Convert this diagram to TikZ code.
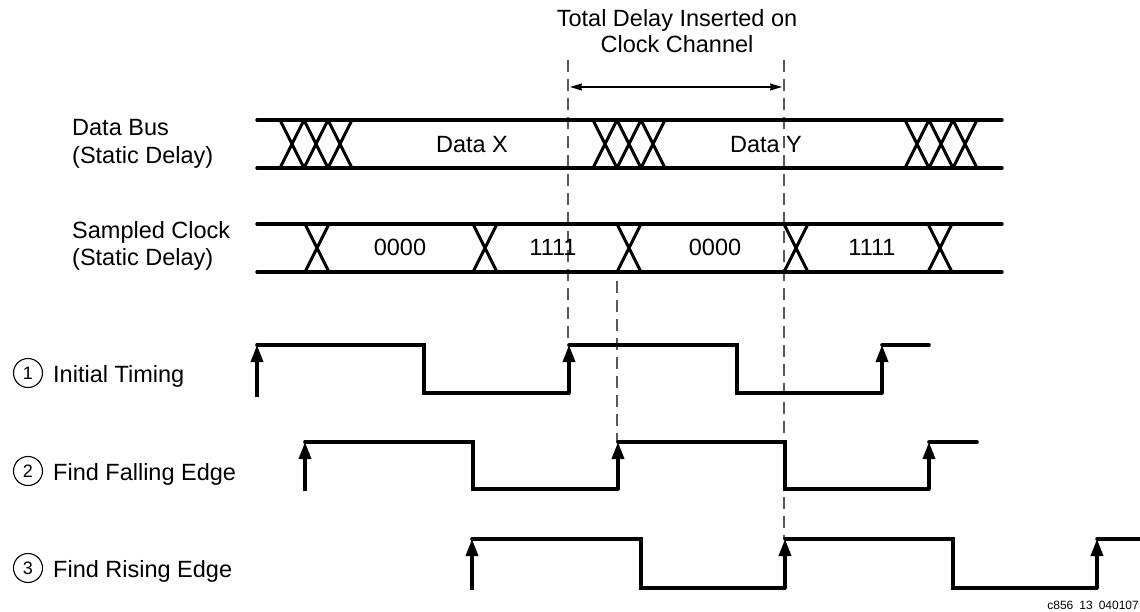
\documentclass[tikz,border=0pt]{standalone}
\usepackage{fontspec}
\setmainfont{Liberation Sans}
\usetikzlibrary{arrows.meta}
\begin{document}
\begin{tikzpicture}[x=1pt,y=-1pt,
  txt/.style={font=\fontsize{23.5}{28}\selectfont, inner sep=0pt},
  bus/.style={line width=3.4pt, line cap=round},
  xing/.style={line width=3pt},
  sig/.style={line width=3.6pt, line join=miter, line cap=round},
  edge/.style={line width=3.6pt, -{Triangle[length=17pt,width=12pt]}},
  guide/.style={draw=black!65, line width=1.4pt, dash pattern=on 12pt off 7pt},
  dim/.style={line width=1.4pt, {Stealth[length=12pt,width=7pt,inset=1pt]}-{Stealth[length=12pt,width=7pt,inset=1pt]}},
  circ/.style={circle, draw, line width=1.1pt, minimum size=29pt, inner sep=0pt, font=\fontsize{18}{18}\selectfont}
]
\useasboundingbox (0,0) rectangle (1140,612);

% ---------- title ----------
\node[font=\fontsize{23.5}{26}\selectfont, inner sep=0pt, align=center, anchor=base] (title) at (677,53) {Total Delay Inserted on\\Clock Channel};

% ---------- guide lines ----------
\coordinate (g1t) at (568,60);  \coordinate (g1b) at (568,345);
\coordinate (g2t) at (617,281); \coordinate (g2b) at (617,442);
\coordinate (g3t) at (784,60);  \coordinate (g3b) at (784,539);
\draw[guide] (g1t) -- (g1b);
\draw[guide] (g2t) -- (g2b);
\draw[guide] (g3t) -- (g3b);
\coordinate (d1) at (570,87); \coordinate (d2) at (782,87);
\draw[dim] (d1) -- (d2);

% ---------- left labels ----------
\node[txt, anchor=base west, align=left] (lbus) at (72,164) {Data Bus\\(Static Delay)};
\node[txt, anchor=base west, align=left] (lclk) at (72,266) {Sampled Clock\\(Static Delay)};

\node[circ] (c1) at (28,373) {1};
\node[txt, anchor=base west] (l1) at (53,382) {Initial Timing};
\node[circ] (c2) at (28,471) {2};
\node[txt, anchor=base west] (l2) at (53,480) {Find Falling Edge};
\node[circ] (c3) at (28,568) {3};
\node[txt, anchor=base west] (l3) at (53,577) {Find Rising Edge};

% ---------- data bus ----------
\draw[bus] (257,120) -- (1002,120);
\draw[bus] (257,168) -- (1002,168);
\foreach \a in {280,304,328, 593,617,641, 905,929,953}{
  \draw[xing] (\a,120) -- (\a+24,168);
  \draw[xing] (\a,168) -- (\a+24,120);
}
\node[txt, anchor=base] (dx) at (472,153) {Data X};
\node[txt, anchor=base] (dy) at (766,153) {Data Y};

% ---------- sampled clock ----------
\draw[bus] (257,224) -- (1002,224);
\draw[bus] (257,272) -- (1002,272);
\foreach \a in {305,473,617,784,928}{
  \draw[xing] (\a,224) -- (\a+24,272);
  \draw[xing] (\a,272) -- (\a+24,224);
}
\node[txt, anchor=base] (k1) at (400,256) {0000};
\node[txt, anchor=base] (k2) at (553,256) {1111};
\node[txt, anchor=base] (k3) at (715,256) {0000};
\node[txt, anchor=base] (k4) at (872,256) {1111};

% ---------- 1: initial timing ----------
\draw[edge] (257,397) -- (257,345);
\draw[sig] (257,345) -- (424,345) -- (424,393) -- (569,393);
\draw[edge] (569,393) -- (569,345);
\draw[sig] (569,345) -- (737,345) -- (737,393) -- (882,393);
\draw[edge] (882,393) -- (882,345);
\draw[sig] (882,345) -- (929,345);

% ---------- 2: find falling edge ----------
\draw[edge] (305,491) -- (305,442);
\draw[sig] (305,442) -- (473,442) -- (473,489) -- (618,489);
\draw[edge] (618,489) -- (618,442);
\draw[sig] (618,442) -- (785,442) -- (785,489) -- (929,489);
\draw[edge] (929,489) -- (929,442);
\draw[sig] (929,442) -- (977,442);

% ---------- 3: find rising edge ----------
\draw[edge] (472,590) -- (472,539);
\draw[sig] (472,539) -- (641,539) -- (641,588) -- (785,588);
\draw[edge] (785,588) -- (785,539);
\draw[sig] (785,539) -- (953,539) -- (953,588) -- (1097,588);
\draw[edge] (1097,588) -- (1097,539);
\draw[sig] (1097,539) -- (1142,539);

% ---------- footer ----------
\node[anchor=base east, inner sep=0pt, font=\fontsize{12}{12}\selectfont] (foot) at (1139,609) {c856\hspace{0.5em}13\hspace{0.5em}040107};
\end{tikzpicture}
\end{document}
